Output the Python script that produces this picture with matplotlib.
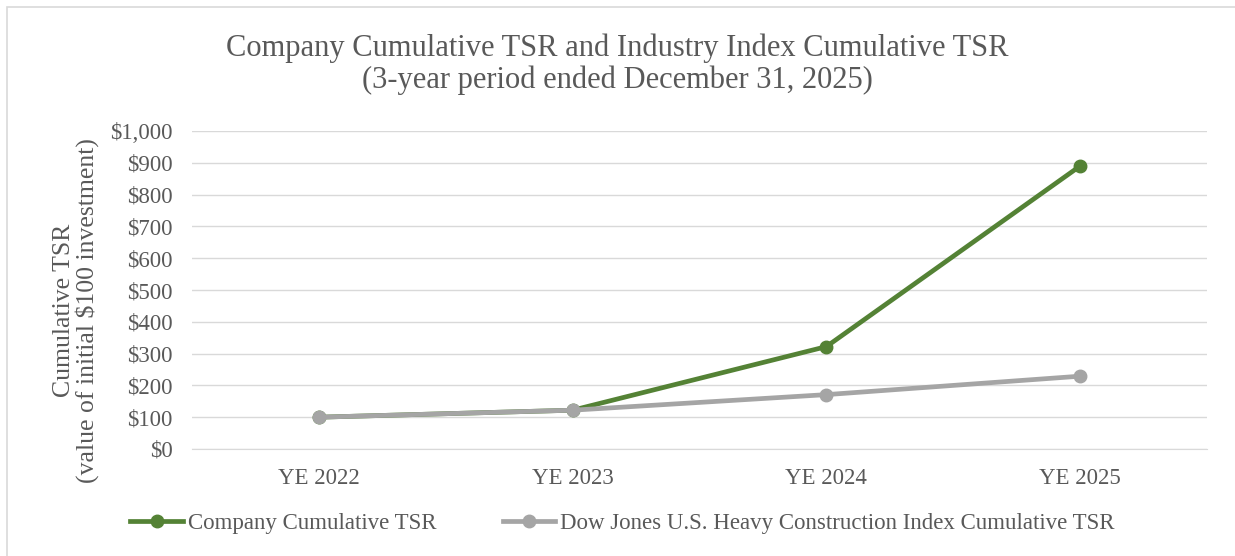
import matplotlib
matplotlib.use('Agg')
import matplotlib.pyplot as plt
import matplotlib.patches as mpatches
from matplotlib.ticker import FuncFormatter

plt.rcParams['font.family'] = ['Liberation Serif', 'DejaVu Serif']

# data
years = ['YE 2022', 'YE 2023', 'YE 2024', 'YE 2025']
company_tsr = [100, 122, 322, 890]
index_tsr = [100, 122, 171, 229]

green = '#548235'
grey = '#A5A5A5'
txt = '#595959'

fig = plt.figure(figsize=(12.35, 5.56), dpi=100)
ax = fig.add_axes([192 / 1235, 1 - 449 / 556, (1207 - 192) / 1235, (449 - 131) / 556])

# outer chart border (runs off right/bottom edge like the source)
fig.patches.append(mpatches.Rectangle((7 / 1235, -0.01), 1.02, 1.01 - 7 / 556,
                                      transform=fig.transFigure, fill=False,
                                      edgecolor='#D9D9D9', linewidth=1.2))

x = range(len(years))
ax.plot(x, company_tsr, color=green, linewidth=3.4, marker='o', markersize=9,
        label='Company Cumulative TSR', zorder=3)
ax.plot(x, index_tsr, color=grey, linewidth=3.4, marker='o', markersize=9,
        label='Dow Jones U.S. Heavy Construction Index Cumulative TSR', zorder=4)

ax.set_xlim(-0.5, 3.5)
ax.set_ylim(0, 1000)
ax.set_yticks(range(0, 1001, 100))
ax.yaxis.set_major_formatter(FuncFormatter(lambda v, p: f'${int(v):,}'))
ax.set_xticks(list(x))
ax.set_xticklabels(years)
ax.grid(axis='y', color='#D9D9D9', linewidth=1)
ax.set_axisbelow(True)
for s in ['top', 'right', 'left']:
    ax.spines[s].set_visible(False)
ax.spines['bottom'].set_color('#D9D9D9')
ax.tick_params(axis='both', length=0, labelsize=16.5, colors=txt)
ax.tick_params(axis='y', pad=14)
ax.tick_params(axis='x', pad=14)

ax.set_ylabel('Cumulative TSR\n(value of initial $100 investment)', fontsize=18.5,
              color=txt, labelpad=8, linespacing=1.0)
ax.yaxis.label.set_y(0.435)

fig.text(0.5, 1 - 64 / 556, 'Company Cumulative TSR and Industry Index Cumulative TSR\n'
         '(3-year period ended December 31, 2025)', ha='center', va='center',
         fontsize=22, color=txt, linespacing=1.12)

fig.legend(loc='center', bbox_to_anchor=(0.504, 1 - 523 / 556),
           ncol=2, frameon=False, fontsize=16.5, handlelength=2.3, handletextpad=0.2,
           columnspacing=2.9, labelcolor=txt)

plt.savefig('out.png', dpi=100, facecolor='white')
